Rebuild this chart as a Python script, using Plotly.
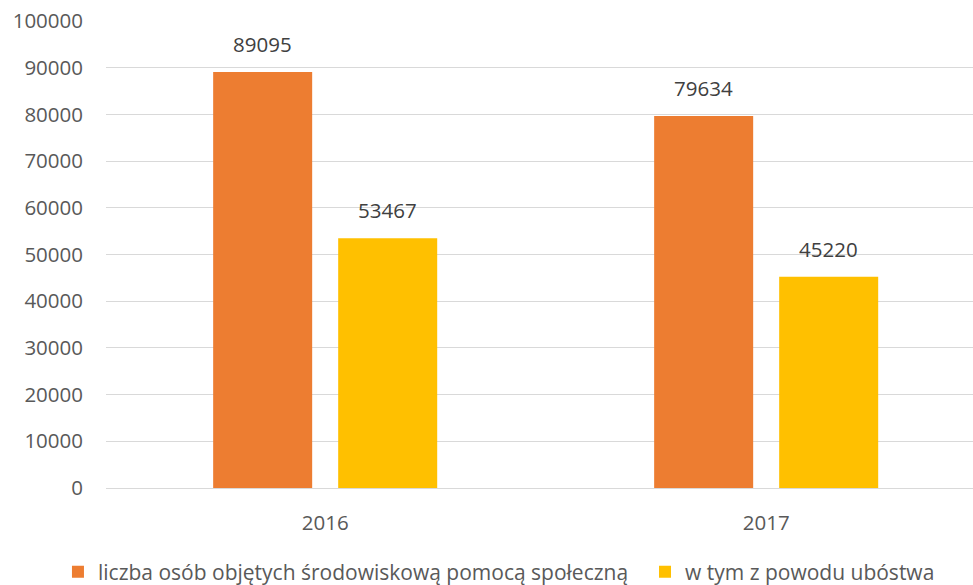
import plotly.graph_objects as go

categories = ["2016", "2017"]
series_names = ["liczba osób objętych środowiskową pomocą społeczną", "w tym z powodu ubóstwa"]
series_a = [89095, 79634]
series_b = [53467, 45220]
y_ticks = [0, 10000, 20000, 30000, 40000, 50000, 60000, 70000, 80000, 90000, 100000]

colors = ["#ED7D31", "#FFC000"]
FONT = "Open Sans"
TXT = "#595959"
BARGAP = 0.433
BARGROUPGAP = 0.208

fig = go.Figure()
all_series = [series_a, series_b]
legend_ids = ["legend", "legend2"]
for name, vals, col, lg in zip(series_names, all_series, colors, legend_ids):
    fig.add_trace(go.Bar(
        x=categories, y=vals, name=name, marker_color=col,
        marker_line_width=0, legend=lg,
    ))

# value labels above bars (offset within the group derived from bar layout params)
slot = (1 - BARGAP) / len(all_series)
for j, vals in enumerate(all_series):
    off = (j - (len(all_series) - 1) / 2) * slot
    for i, v in enumerate(vals):
        fig.add_annotation(x=i + off, y=v, xref="x", yref="y", text=str(v),
                           showarrow=False, yanchor="bottom", yshift=12,
                           font=dict(family=FONT, size=20.5, color="#404040"))

legend_style = dict(orientation="h", xanchor="left", yref="container", y=0.0222,
                    yanchor="middle", font=dict(family=FONT, size=21, color=TXT),
                    itemwidth=30, bgcolor="rgba(0,0,0,0)")

fig.update_layout(
    width=973, height=585,
    margin=dict(l=106, r=0, t=21, b=97),
    paper_bgcolor="white", plot_bgcolor="white",
    barmode="group", bargap=BARGAP, bargroupgap=BARGROUPGAP,
    font=dict(family=FONT, size=20.5, color=TXT),
    showlegend=True,
    legend=dict(x=-0.0554, **legend_style),
    legend2=dict(x=0.6217, **legend_style),
)
fig.update_xaxes(range=[-0.497, 1.469], showgrid=False, showline=False, zeroline=False,
                 ticks="", ticklabelstandoff=20, automargin=False,
                 tickfont=dict(family=FONT, size=20.5, color=TXT))
fig.update_yaxes(range=[0, 100000], tickvals=y_ticks, ticktext=[str(t) for t in y_ticks],
                 showgrid=True, gridcolor="#D9D9D9", gridwidth=1.3,
                 zeroline=True, zerolinecolor="#D9D9D9", zerolinewidth=1.3,
                 showline=False, ticks="", ticklabelstandoff=22, automargin=False,
                 tickfont=dict(family=FONT, size=20.5, color=TXT))

fig.write_html("out.html", config={"displayModeBar": False},
               post_script="document.body.style.margin='0';document.body.style.overflow='hidden';")
